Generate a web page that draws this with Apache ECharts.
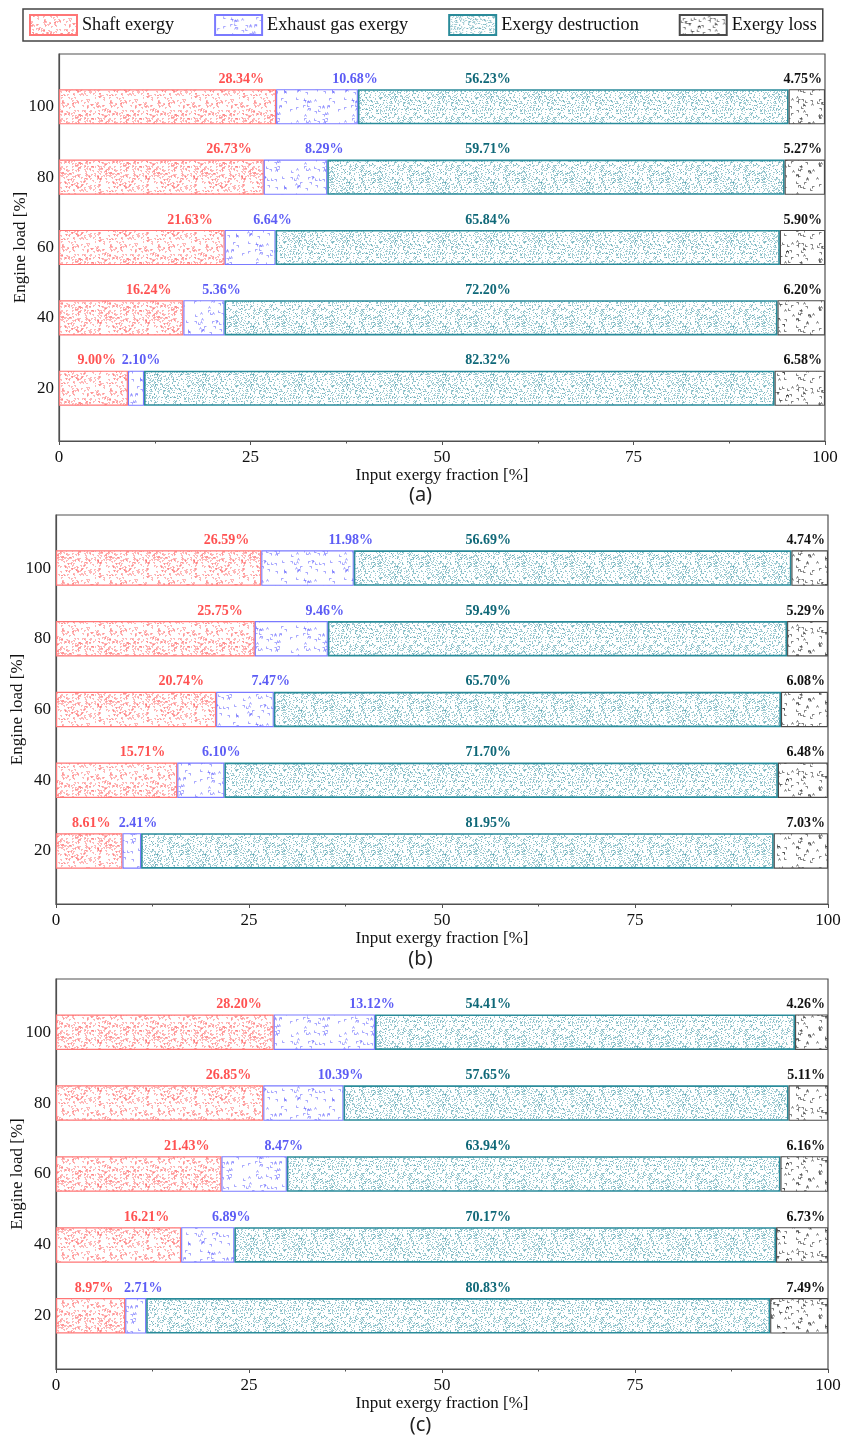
<!DOCTYPE html>
<html>
<head>
<meta charset="utf-8">
<script src="https://cdn.jsdelivr.net/npm/echarts@6/dist/echarts.min.js"></script>
<style>
  html, body { margin: 0; padding: 0; background: #fff; }
  #chart { width: 841px; height: 1441px; }
</style>
</head>
<body>
<div id="chart"></div>
<script>
// Engine loads [%] shown on the vertical axis of every panel
const loads = [20, 40, 60, 80, 100];
// Horizontal axis ticks [%]
const xTicks = [0, 25, 50, 75, 100];
const seriesNames = ['Shaft exergy', 'Exhaust gas exergy', 'Exergy destruction', 'Exergy loss'];
const panelTags = ['(a)', '(b)', '(c)'];

// Panel (a)
const shaftA    = [9.00, 16.24, 21.63, 26.73, 28.34];
const exhaustA  = [2.10, 5.36, 6.64, 8.29, 10.68];
const destrA    = [82.32, 72.20, 65.84, 59.71, 56.23];
const lossA     = [6.58, 6.20, 5.90, 5.27, 4.75];
// Panel (b)
const shaftB    = [8.61, 15.71, 20.74, 25.75, 26.59];
const exhaustB  = [2.41, 6.10, 7.47, 9.46, 11.98];
const destrB    = [81.95, 71.70, 65.70, 59.49, 56.69];
const lossB     = [7.03, 6.48, 6.08, 5.29, 4.74];
// Panel (c)
const shaftC    = [8.97, 16.21, 21.43, 26.85, 28.20];
const exhaustC  = [2.71, 6.89, 8.47, 10.39, 13.12];
const destrC    = [80.83, 70.17, 63.94, 57.65, 54.41];
const lossC     = [7.49, 6.73, 6.16, 5.11, 4.26];

const panels = [
  [shaftA, exhaustA, destrA, lossA],
  [shaftB, exhaustB, destrB, lossB],
  [shaftC, exhaustC, destrC, lossC]
];

// ---- fill textures -------------------------------------------------------
function seeded(seed) {
  let s = seed >>> 0;
  return () => {
    s = (Math.imul(s, 1664525) + 1013904223) >>> 0;
    return s / 4294967296;
  };
}
function tile(size, draw) {
  const c = document.createElement('canvas');
  c.width = c.height = size;
  const g = c.getContext('2d');
  g.fillStyle = '#ffffff';
  g.fillRect(0, 0, size, size);
  draw(g, size);
  return c;
}
// small hook-shaped glyphs (L, 7, ^ ...)
function hooks(color, count, seed) {
  return tile(48, (g, n) => {
    const r = seeded(seed);
    g.strokeStyle = color;
    g.lineWidth = 0.8;
    for (let i = 0; i < count; i++) {
      const x = Math.floor(r() * (n - 3)) + 0.5, y = Math.floor(r() * (n - 3)) + 0.5;
      const t = Math.floor(r() * 4);
      g.beginPath();
      if (t === 0) { g.moveTo(x, y); g.lineTo(x, y + 2); g.lineTo(x + 2, y + 2); }
      else if (t === 1) { g.moveTo(x, y); g.lineTo(x + 2, y); g.lineTo(x + 2, y + 2); }
      else if (t === 2) { g.moveTo(x, y + 2); g.lineTo(x + 1, y); g.lineTo(x + 2, y + 2); }
      else { g.moveTo(x, y + 2); g.lineTo(x, y); g.lineTo(x + 2, y); }
      g.stroke();
    }
  });
}
const shaftTex = tile(48, (g, n) => {
  const r = seeded(11);
  g.fillStyle = 'rgba(255,115,115,0.5)';
  for (let i = 0; i < 280; i++) {
    const x = Math.floor(r() * n), y = Math.floor(r() * n);
    g.fillRect(x, y, 2, 1);
    g.fillRect(x + (r() < 0.5 ? 0 : 1), y + 1, 1, 1);
  }
});
const destrTex = tile(48, (g, n) => {
  const r = seeded(29);
  g.fillStyle = 'rgba(70,155,170,0.5)';
  for (let i = 0; i < 760; i++) {
    g.fillRect(Math.floor(r() * n), Math.floor(r() * n), 1, 1);
  }
});
const exhaustTex = hooks('rgba(105,105,255,0.75)', 60, 7);
const lossTex = hooks('rgba(40,40,40,0.75)', 70, 53);

const styles = [
  { color: { image: shaftTex, repeat: 'repeat' }, borderColor: '#ff7676', borderWidth: 1.2 },
  { color: { image: exhaustTex, repeat: 'repeat' }, borderColor: '#7a7aff', borderWidth: 1.1 },
  { color: { image: destrTex, repeat: 'repeat' }, borderColor: '#2a8b9a', borderWidth: 1.6 },
  { color: { image: lossTex, repeat: 'repeat' }, borderColor: '#4a4a4a', borderWidth: 1.1 }
];
const labelColors = ['#ff5252', '#5c5cf5', '#0f6878', '#111111'];

// ---- vertical axis slots: one band per 10 % of load ----------------------
const slots = [];
for (let v = loads[0] - 10; v <= loads[loads.length - 1] + 10; v += 10) slots.push(String(v));
const toSlots = (vals, mapItem) => slots.map(s => {
  const i = loads.indexOf(Number(s));
  return i >= 0 ? (mapItem ? mapItem(vals[i], i) : vals[i]) : '-';
});

// ---- layout of the three panels -------------------------------------------
const grids = [
  { left: 59, top: 54, width: 766, height: 387 },
  { left: 56, top: 515, width: 772, height: 389 },
  { left: 56, top: 979, width: 772, height: 390 }
];
const tagTops = [480, 944, 1410];
const destrLabelAt = 56; // axis value where the destruction labels sit

const serif = 'Liberation Serif';
const axisColor = '#505050';

const series = [];
panels.forEach((vals, p) => {
  vals.forEach((arr, k) => {
    const label = {
      show: true,
      fontFamily: serif,
      fontWeight: 'bold',
      fontSize: 14,
      color: labelColors[k],
      verticalAlign: 'bottom',
      formatter: prm => Number(prm.value).toFixed(2) + '%'
    };
    let data;
    if (k === 0) {
      Object.assign(label, { position: ['100%', 0], align: 'right', offset: [-12, -3] });
      data = toSlots(arr);
    } else if (k === 1) {
      Object.assign(label, { position: ['100%', 0], align: 'center', offset: [-3, -3] });
      data = toSlots(arr);
    } else if (k === 2) {
      Object.assign(label, { align: 'center', offset: [0, -3] });
      data = toSlots(arr, (v, i) => {
        const start = vals[0][i] + vals[1][i];
        return { value: v, label: { position: [((destrLabelAt - start) / v * 100) + '%', 0] } };
      });
    } else {
      Object.assign(label, { position: ['100%', 0], align: 'right', offset: [-3, -3] });
      data = toSlots(arr);
    }
    series.push({
      name: seriesNames[k],
      type: 'bar',
      xAxisIndex: p,
      yAxisIndex: p,
      stack: 'panel' + p,
      barWidth: '100%',
      itemStyle: styles[k],
      label: label,
      emphasis: { disabled: true },
      data: data
    });
  });
});

const option = {
  backgroundColor: '#ffffff',
  animation: false,
  title: panelTags.map((t, i) => ({
    text: t,
    left: 'center',
    top: tagTops[i],
    textStyle: { fontFamily: 'Noto Sans', fontSize: 20, fontWeight: 'normal', color: '#222' }
  })),
  legend: {
    data: seriesNames,
    left: 23,
    top: 9,
    icon: 'rect',
    itemWidth: 47,
    itemHeight: 20,
    itemGap: 40,
    padding: [5, 6, 5, 6],
    borderColor: '#444',
    borderWidth: 1.5,
    textStyle: { fontFamily: serif, fontSize: 18.2, color: '#111' },
    selectedMode: false
  },
  grid: grids.map(g => Object.assign({
    show: true,
    borderColor: axisColor,
    borderWidth: 1.2,
    backgroundColor: 'transparent',
    containLabel: false,
    outerBoundsMode: 'none'
  }, g)),
  xAxis: grids.map((g, i) => ({
    type: 'value',
    gridIndex: i,
    min: xTicks[0],
    max: xTicks[xTicks.length - 1],
    interval: xTicks[1] - xTicks[0],
    name: 'Input exergy fraction [%]',
    nameLocation: 'middle',
    nameGap: 26,
    nameMoveOverlap: false,
    nameTextStyle: { fontFamily: serif, fontSize: 17, color: '#111' },
    axisLine: { show: true, lineStyle: { color: axisColor, width: 1.2 } },
    axisTick: { show: true, inside: false, length: 4, lineStyle: { color: axisColor } },
    minorTick: { show: true, splitNumber: 2, length: 2.5, lineStyle: { color: axisColor } },
    splitLine: { show: false },
    axisLabel: { margin: 8, fontFamily: serif, fontSize: 17, color: '#111' }
  })),
  yAxis: grids.map((g, i) => ({
    type: 'category',
    gridIndex: i,
    data: slots,
    name: 'Engine load [%]',
    nameLocation: 'middle',
    nameGap: 30,
    nameMoveOverlap: false,
    nameTextStyle: { fontFamily: serif, fontSize: 17, color: '#111' },
    axisLine: { show: true, lineStyle: { color: axisColor, width: 1.2 } },
    axisTick: { show: false },
    splitLine: { show: false },
    axisLabel: {
      margin: 5,
      fontFamily: serif,
      fontSize: 17,
      color: '#111',
      interval: (idx, val) => loads.indexOf(Number(val)) >= 0
    }
  })),
  series: series
};

const chart = echarts.init(document.getElementById('chart'), null, { renderer: 'canvas' });
chart.setOption(option);
</script>
</body>
</html>
